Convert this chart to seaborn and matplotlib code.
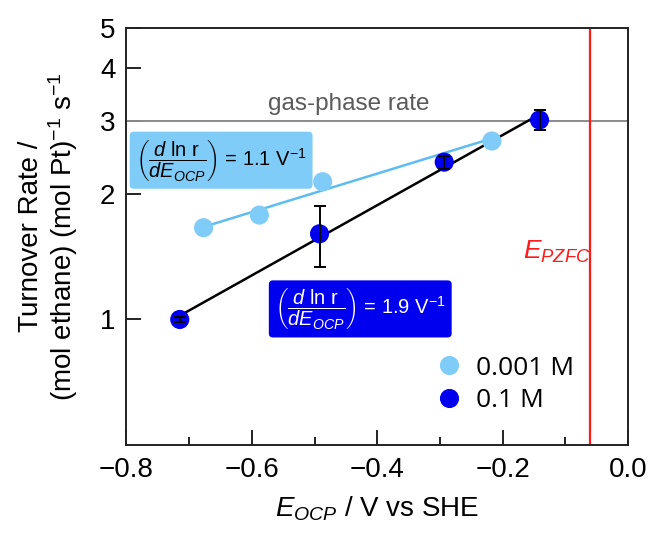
import numpy as np
import pandas as pd
import matplotlib
matplotlib.use("Agg")
import matplotlib.pyplot as plt
import seaborn as sns
from matplotlib.ticker import FixedLocator, FixedFormatter, NullLocator

# ---------------- data ----------------
e_low = [-0.677, -0.588, -0.487, -0.217]          # 0.001 M
r_low = [1.66, 1.78, 2.14, 2.68]
e_high = [-0.715, -0.492, -0.293, -0.141]         # 0.1 M
r_high = [1.00, 1.605, 2.385, 3.01]
r_high_lo = [0.985, 1.335, 2.29, 2.84]
r_high_hi = [1.015, 1.87, 2.46, 3.18]
series_labels = ["0.001 M", "0.1 M"]
slope_labels = ["1.1", "1.9"]
gas_phase_rate = 3.0
e_pzfc = -0.06
x_ticks = [-0.8, -0.6, -0.4, -0.2, 0.0]
x_tick_labels = ["\u22120.8", "\u22120.6", "\u22120.4", "\u22120.2", "0.0"]
x_minor = [-0.7, -0.5, -0.3, -0.1]
y_ticks = [1, 2, 3, 4, 5]
y_tick_labels = ["1", "2", "3", "4", "5"]

c_light = "#80CCF8"
c_light_line = "#5DBDF2"
c_dark = "#0000EE"

sns.set_style("ticks")
plt.rcParams["font.family"] = ["Liberation Sans", "DejaVu Sans"]
plt.rcParams["mathtext.fontset"] = "custom"
plt.rcParams["mathtext.rm"] = "Liberation Sans"
plt.rcParams["mathtext.it"] = "Liberation Sans:italic"
plt.rcParams["mathtext.bf"] = "Liberation Sans:bold"
plt.rcParams["text.color"] = "black"
plt.rcParams["axes.labelcolor"] = "black"
plt.rcParams["xtick.color"] = "black"
plt.rcParams["ytick.color"] = "black"

df = pd.DataFrame({
    "E": e_low + e_high,
    "r": r_low + r_high,
    "conc": [series_labels[0]] * len(e_low) + [series_labels[1]] * len(e_high),
})

fig = plt.figure(figsize=(6.52, 5.4), dpi=100)
ax = fig.add_axes([0.194, 0.176, 0.769, 0.772])

# fit lines (ln r vs E)
for xs, ys, col in [(e_low, r_low, c_light_line), (e_high, r_high, "black")]:
    p = np.polyfit(xs, np.log(ys), 1)
    xx = np.array([min(xs), max(xs)])
    ax.plot(xx, np.exp(np.polyval(p, xx)), color=col, lw=1.8, zorder=2)

sns.scatterplot(data=df, x="E", y="r", hue="conc", palette=[c_light, c_dark],
                s=190, linewidth=0, ax=ax, zorder=3, legend=True)

yerr = np.array([np.array(r_high) - np.array(r_high_lo), np.array(r_high_hi) - np.array(r_high)])
ax.errorbar(e_high, r_high, yerr=yerr, fmt="none", ecolor="black", elinewidth=1.4,
            capsize=4.5, capthick=1.4, zorder=4)

ax.axhline(gas_phase_rate, color="#8a8a8a", lw=1.4, zorder=1)
ax.axvline(e_pzfc, color="#FF1a1a", lw=1.6, zorder=1)

ax.set_yscale("log")
ax.set_xlim(-0.8, 0.0)
ax.set_ylim(0.5, 5)
ax.yaxis.set_major_locator(FixedLocator(y_ticks))
ax.yaxis.set_major_formatter(FixedFormatter(y_tick_labels))
ax.yaxis.set_minor_locator(NullLocator())
ax.xaxis.set_major_locator(FixedLocator(x_ticks))
ax.xaxis.set_major_formatter(FixedFormatter(x_tick_labels))
ax.xaxis.set_minor_locator(FixedLocator(x_minor))

ax.tick_params(axis="both", which="major", direction="in", length=11, width=1.4,
               labelsize=20, color="#222222", labelcolor="black")
ax.tick_params(axis="x", which="major", pad=9)
ax.tick_params(axis="y", which="major", pad=8)
ax.tick_params(axis="x", which="minor", direction="in", length=6, width=1.4, color="#222222")
for sp in ax.spines.values():
    sp.set_visible(True)
    sp.set_linewidth(1.4)
    sp.set_color("#222222")

ax.set_xlabel("$E_{OCP}$ / V vs SHE", fontsize=20, labelpad=8)
ax.set_ylabel("Turnover Rate /\n(mol ethane) (mol Pt)$^{\\mathregular{-1}}$ s$^{\\mathregular{-1}}$",
              fontsize=20, labelpad=14, linespacing=1.1)

ax.annotate("gas-phase rate", xy=(-0.446, gas_phase_rate), xytext=(0, 4),
            textcoords="offset points", ha="center", va="bottom",
            fontsize=17.5, color="#5a5a5a")

frac = r"$\left(\dfrac{d\ \mathrm{ln\ r}}{dE_{OCP}}\right)$"
ax.text(-0.649, 2.41, frac + " = " + slope_labels[0] + " V$^{\\mathregular{-1}}$",
        ha="center", va="center", fontsize=14.5, color="black",
        bbox=dict(boxstyle="round,pad=0.3,rounding_size=0.2", fc=c_light, ec="none"))
ax.text(-0.427, 1.06, frac + " = " + slope_labels[1] + " V$^{\\mathregular{-1}}$",
        ha="center", va="center", fontsize=14.5, color="white",
        bbox=dict(boxstyle="round,pad=0.3,rounding_size=0.2", fc=c_dark, ec="none"))

ax.text(-0.113, 1.45, "$E_{PZFC}$", ha="center", va="center", fontsize=19, color="#FF1a1a")

leg = ax.legend(loc="center left", bbox_to_anchor=(0.57, 0.145), frameon=False,
                prop={"family": ["Open Sans", "DejaVu Sans"], "size": 19},
                handletextpad=0.0, labelspacing=0.3, borderaxespad=0,
                labelcolor="black")
leg.set_title(None)

fig.savefig("out.png", dpi=100)
